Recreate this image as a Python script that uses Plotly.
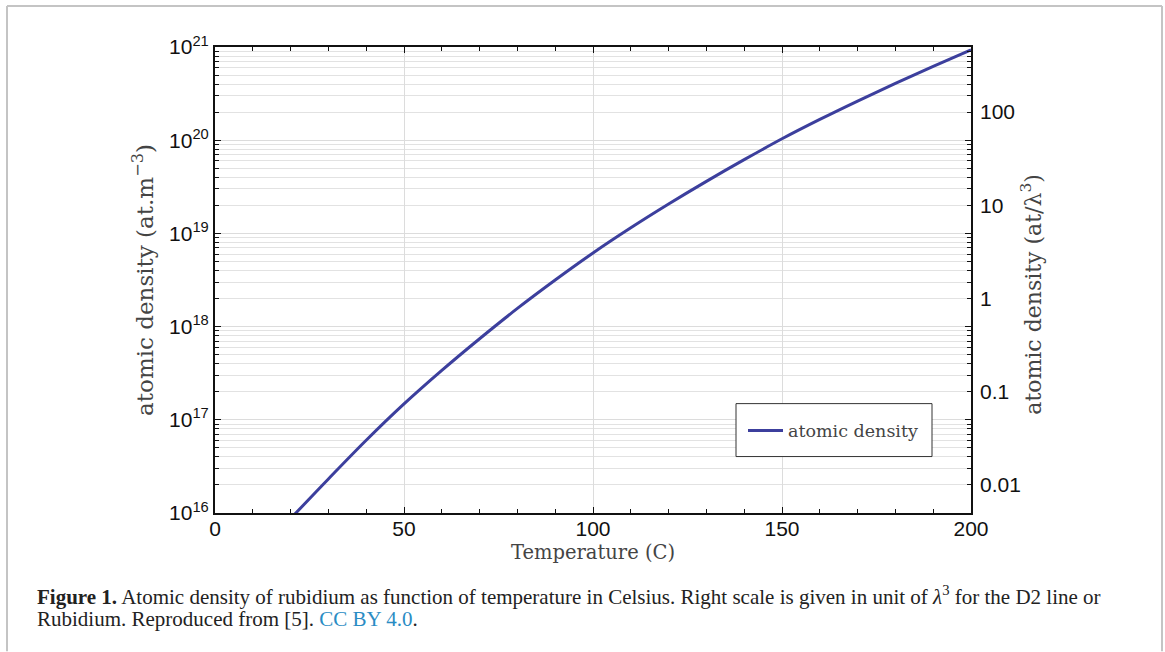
import math
import plotly.graph_objects as go

# ---- data ----
temperature_c = [20, 30, 40, 50, 60, 70, 80, 90, 100, 110, 120, 130, 140, 150, 160, 170, 180, 190, 200]
log10_density = [15.94, 16.365, 16.78, 17.17, 17.53, 17.87, 18.195, 18.50, 18.79, 19.06, 19.315,
                 19.558, 19.791, 20.015, 20.223, 20.42, 20.609, 20.792, 20.97]
density_m3 = [10.0 ** v for v in log10_density]

left_tickvals = [1e16, 1e17, 1e18, 1e19, 1e20, 1e21]
left_ticktext = ["10<sup>16</sup>", "10<sup>17</sup>", "10<sup>18</sup>", "10<sup>19</sup>",
                 "10<sup>20</sup>", "10<sup>21</sup>"]
right_tickvals = [0.01, 0.1, 1, 10, 100]
right_ticktext = ["0.01", "0.1", "1", "10", "100"]
x_tickvals = [0, 50, 100, 150, 200]
per_lambda3 = 2.0e18

# ---- layout geometry (pixels) ----
W, H = 1165, 652
L, R, T, B = 215, 971, 47, 513.5


def px_x(x):
    return (x - L) / (R - L)


def px_y(y):
    return (B - y) / (B - T)


ymin, ymax = 16, 21
y2min = ymin - math.log10(per_lambda3)
y2max = ymax - math.log10(per_lambda3)

minor_y = [float(k) * 10.0 ** e for e in range(16, 21) for k in range(2, 10)]

fig = go.Figure()
fig.add_trace(go.Scatter(x=temperature_c, y=density_m3, mode="lines", name="atomic density",
                         line=dict(color="#3c3f9d", width=3, shape="spline")))
# invisible trace to activate right axis
fig.add_trace(go.Scatter(x=[0, 200], y=[10.0 ** y2min, 10.0 ** y2max], yaxis="y2", mode="lines",
                         line=dict(width=0), hoverinfo="skip", showlegend=False, opacity=0))

tick_font = dict(family="Liberation Sans, Arial, sans-serif", size=21, color="#111")
xtitle_font = dict(family="DejaVu Serif, serif", size=19.5, color="#444")
ytitle_font = dict(family="DejaVu Serif, serif", size=23, color="#444")
y2title_font = dict(family="DejaVu Serif, serif", size=22, color="#444")

fig.update_layout(
    width=W, height=H,
    margin=dict(l=L, r=W - R, t=T, b=H - B),
    paper_bgcolor="white", plot_bgcolor="white",
    showlegend=True,
    legend=dict(x=px_x(743), y=px_y(431), xanchor="left", yanchor="middle",
                bgcolor="rgba(0,0,0,0)", borderwidth=0,
                font=dict(family="DejaVu Serif, serif", size=17.5, color="#444"),
                itemwidth=35, tracegroupgap=0),
    xaxis=dict(range=[0, 200], tickvals=x_tickvals, ticks="inside", ticklen=6, tickwidth=1,
               tickcolor="#111", showline=True, linecolor="#111", linewidth=2, mirror="ticks",
               showgrid=True, gridcolor="#dcdcdc", gridwidth=1, zeroline=False,
               tickfont=tick_font, ticklabelstandoff=-4,
               minor=dict(dtick=10, ticks="inside", ticklen=4, tickcolor="#111", showgrid=False),
               title=dict(text="Temperature (C)", font=xtitle_font, standoff=6)),
    yaxis=dict(type="log", range=[ymin, ymax], tickvals=left_tickvals, ticktext=left_ticktext,
               ticks="inside", ticklen=6, tickcolor="#111", showline=True, linecolor="#111",
               linewidth=2, mirror="ticks", showgrid=True, gridcolor="#dcdcdc", zeroline=False,
               tickfont=tick_font,
               minor=dict(tickvals=minor_y, ticks="inside", ticklen=4, tickcolor="#111",
                          showgrid=True, gridcolor="#e2e2e2"),
               title=dict(text="atomic density (at.m<sup>−3</sup>)", font=ytitle_font, standoff=9)),
    yaxis2=dict(type="log", range=[y2min, y2max], overlaying="y", side="right",
                tickvals=right_tickvals, ticktext=right_ticktext, ticks="", showgrid=False,
                showline=False, zeroline=False, tickfont=tick_font, ticklabelstandoff=8),
)

# right axis title
fig.add_annotation(xref="paper", yref="paper", x=px_x(1031), y=px_y(295), xanchor="center", yanchor="middle",
                   showarrow=False, textangle=-90, font=y2title_font,
                   text="atomic density (at/λ<sup>3</sup>)")

# legend frame (white box under the legend entry)
fig.add_shape(type="rect", xref="paper", yref="paper", x0=px_x(736), x1=px_x(932), y0=px_y(457), y1=px_y(404),
              fillcolor="white", line=dict(color="#333", width=1), layer="above")

# outer frame of the figure panel
frame = dict(color="#c4c4c4", width=2)
fig.add_shape(type="line", xref="paper", yref="paper", x0=px_x(7), x1=px_x(7), y0=px_y(6), y1=px_y(652), line=frame)
fig.add_shape(type="line", xref="paper", yref="paper", x0=px_x(7), x1=px_x(1162), y0=px_y(6), y1=px_y(6), line=frame)
fig.add_shape(type="line", xref="paper", yref="paper", x0=px_x(1162), x1=px_x(1162), y0=px_y(6), y1=px_y(652), line=frame)

cap_font = dict(family="Liberation Serif, Times New Roman, serif", size=21, color="#222")
fig.add_annotation(xref="paper", yref="paper", x=px_x(35), y=px_y(596), xanchor="left", yanchor="middle",
                   showarrow=False, font=cap_font, align="left",
                   text="<b>Figure 1.</b> Atomic density of rubidium as function of temperature in Celsius. "
                        "Right scale is given in unit of <i>λ</i><sup>3</sup> for the D2 line or")
fig.add_annotation(xref="paper", yref="paper", x=px_x(35), y=px_y(620), xanchor="left", yanchor="middle",
                   showarrow=False, font=cap_font, align="left",
                   text="Rubidium. Reproduced from [5]. <span style='color:#2a8cc4'>CC BY 4.0</span>.")

fig.write_html("out.html")
